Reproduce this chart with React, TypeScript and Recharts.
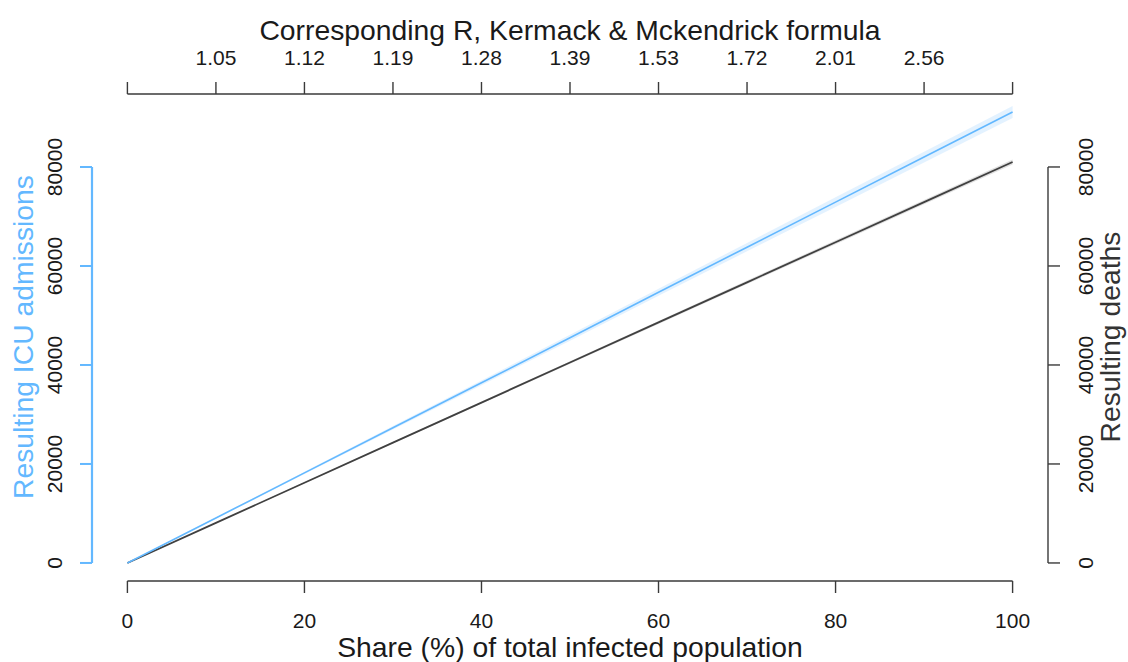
import React from 'react'
import {
  ComposedChart, Line, Area, XAxis, YAxis, ReferenceLine,
} from 'recharts'

// share of infected population (%)
const share = [0, 10, 20, 30, 40, 50, 60, 70, 80, 90, 100]
const icu = [0, 9100, 18200, 27300, 36400, 45500, 54700, 63800, 72900, 82000, 91100]
const icuLow = [0, 8980, 17960, 26940, 35920, 44900, 53980, 62960, 71940, 80920, 89900]
const icuHigh = [0, 9220, 18440, 27660, 36880, 46100, 55420, 64640, 73860, 83080, 92300]
const deaths = [0, 8100, 16200, 24300, 32400, 40500, 48600, 56700, 64800, 72900, 81000]
const deathsLow = [0, 8050, 16100, 24150, 32200, 40250, 48300, 56350, 64400, 72450, 80500]
const deathsHigh = [0, 8150, 16300, 24450, 32600, 40750, 48900, 57050, 65200, 73350, 81500]

const bottomTicks = [0, 20, 40, 60, 80, 100]
const topTicks = [0, 10, 20, 30, 40, 50, 60, 70, 80, 90, 100]
const rLabels = ['', '1.05', '1.12', '1.19', '1.28', '1.39', '1.53', '1.72', '2.01', '2.56', '']
const yTicks = [0, 20000, 40000, 60000, 80000]

const data = share.map((s, i) => ({
  share: s,
  icu: icu[i],
  icuBand: [icuLow[i], icuHigh[i]],
  deaths: deaths[i],
  deathsBand: [deathsLow[i], deathsHigh[i]],
}))

// R-style 4% padding around the data range
const X_LIM = [0, 100]
const Y_LIM = [0, 91100]
const xPad = (X_LIM[1] - X_LIM[0]) * 0.04
const yPad = (Y_LIM[1] - Y_LIM[0]) * 0.04
const xDomain = [X_LIM[0] - xPad, X_LIM[1] + xPad]
const yDomain = [Y_LIM[0] - yPad, Y_LIM[1] + yPad]

const BLUE = '#63b8ff'
const DARK = '#3a3a3a'
const FONT = '"Liberation Sans", Arial, Helvetica, sans-serif'

const BottomTick = ({ x, y, payload }: any) => (
  <text x={x} y={y + 35} textAnchor="middle" fontSize={21} fill="#1a1a1a" fontFamily={FONT}>
    {payload.value}
  </text>
)

const TopTick = ({ x, y, payload, index }: any) => (
  <text x={x} y={y - 17} textAnchor="middle" fontSize={21} fill="#1a1a1a" fontFamily={FONT}>
    {rLabels[topTicks.indexOf(payload.value)] ?? rLabels[index]}
  </text>
)

const LeftTick = ({ x, y, payload }: any) => {
  const bx = x - 18
  return (
    <text x={bx} y={y} transform={`rotate(-90 ${bx} ${y})`} textAnchor="middle"
      fontSize={21} fill="#1a1a1a" fontFamily={FONT}>
      {payload.value}
    </text>
  )
}

const RightTick = ({ x, y, payload }: any) => {
  const bx = x + 33
  return (
    <text x={bx} y={y} transform={`rotate(-90 ${bx} ${y})`} textAnchor="middle"
      fontSize={21} fill="#1a1a1a" fontFamily={FONT}>
      {payload.value}
    </text>
  )
}

export default function App() {
  return (
    <div style={{ position: 'absolute', left: 0, top: 0, width: 1128, height: 662, background: '#fff' }}>
      <ComposedChart width={1128} height={662} data={data} margin={{ top: 0, right: 0, bottom: 0, left: 0 }}>
        <XAxis xAxisId="bottom" dataKey="share" type="number" domain={xDomain} ticks={bottomTicks}
          height={81} axisLine={false} tickSize={12} tickMargin={0}
          tickLine={{ stroke: DARK, strokeWidth: 1.4 }} tick={<BottomTick />} />
        <XAxis xAxisId="top" orientation="top" dataKey="share" type="number" domain={xDomain} ticks={topTicks}
          height={94} axisLine={false} tickSize={12} tickMargin={0}
          tickLine={{ stroke: DARK, strokeWidth: 1.4 }} tick={<TopTick />} />
        <YAxis yAxisId="left" type="number" domain={yDomain} ticks={yTicks} width={92}
          axisLine={false} tickSize={12} tickMargin={0}
          tickLine={{ stroke: BLUE, strokeWidth: 2 }} tick={<LeftTick />} />
        <YAxis yAxisId="right" orientation="right" type="number" domain={yDomain} ticks={yTicks} width={80}
          axisLine={false} tickSize={12} tickMargin={0}
          tickLine={{ stroke: DARK, strokeWidth: 1.4 }} tick={<RightTick />} />

        <Area xAxisId="bottom" yAxisId="left" dataKey="icuBand" type="linear" stroke="none"
          fill={BLUE} fillOpacity={0.18} isAnimationActive={false} />
        <Area xAxisId="bottom" yAxisId="right" dataKey="deathsBand" type="linear" stroke="none"
          fill="#555" fillOpacity={0.18} isAnimationActive={false} />
        <Line xAxisId="bottom" yAxisId="right" dataKey="deaths" type="linear" stroke="#404040"
          strokeWidth={1.8} dot={false} isAnimationActive={false} />
        <Line xAxisId="bottom" yAxisId="left" dataKey="icu" type="linear" stroke={BLUE}
          strokeWidth={1.6} dot={false} isAnimationActive={false} />

        {/* axis lines spanning only the tick range, as in base R */}
        <ReferenceLine xAxisId="bottom" yAxisId="left" ifOverflow="visible" stroke={DARK} strokeWidth={1.4}
          segment={[{ x: X_LIM[0], y: yDomain[0] }, { x: X_LIM[1], y: yDomain[0] }]} />
        <ReferenceLine xAxisId="bottom" yAxisId="left" ifOverflow="visible" stroke={DARK} strokeWidth={1.4}
          segment={[{ x: X_LIM[0], y: yDomain[1] }, { x: X_LIM[1], y: yDomain[1] }]} />
        <ReferenceLine xAxisId="bottom" yAxisId="left" ifOverflow="visible" stroke={BLUE} strokeWidth={2.2}
          segment={[{ x: xDomain[0], y: yTicks[0] }, { x: xDomain[0], y: yTicks[yTicks.length - 1] }]} />
        <ReferenceLine xAxisId="bottom" yAxisId="right" ifOverflow="visible" stroke={DARK} strokeWidth={1.4}
          segment={[{ x: xDomain[1], y: yTicks[0] }, { x: xDomain[1], y: yTicks[yTicks.length - 1] }]} />
      </ComposedChart>

      <svg width={1128} height={662} style={{ position: 'absolute', left: 0, top: 0, pointerEvents: 'none' }}
        fontFamily={FONT} fontSize={28.3}>
        <text x={570} y={40} textAnchor="middle" fill="#1a1a1a">Corresponding R, Kermack &amp; Mckendrick formula</text>
        <text x={570} y={657} textAnchor="middle" fill="#1a1a1a">Share (%) of total infected population</text>
        <text x={33} y={337} transform="rotate(-90 33 337)" textAnchor="middle" fill={BLUE}>Resulting ICU admissions</text>
        <text x={1120} y={337} transform="rotate(-90 1120 337)" textAnchor="middle" fill="#333">Resulting deaths</text>
      </svg>
    </div>
  )
}
